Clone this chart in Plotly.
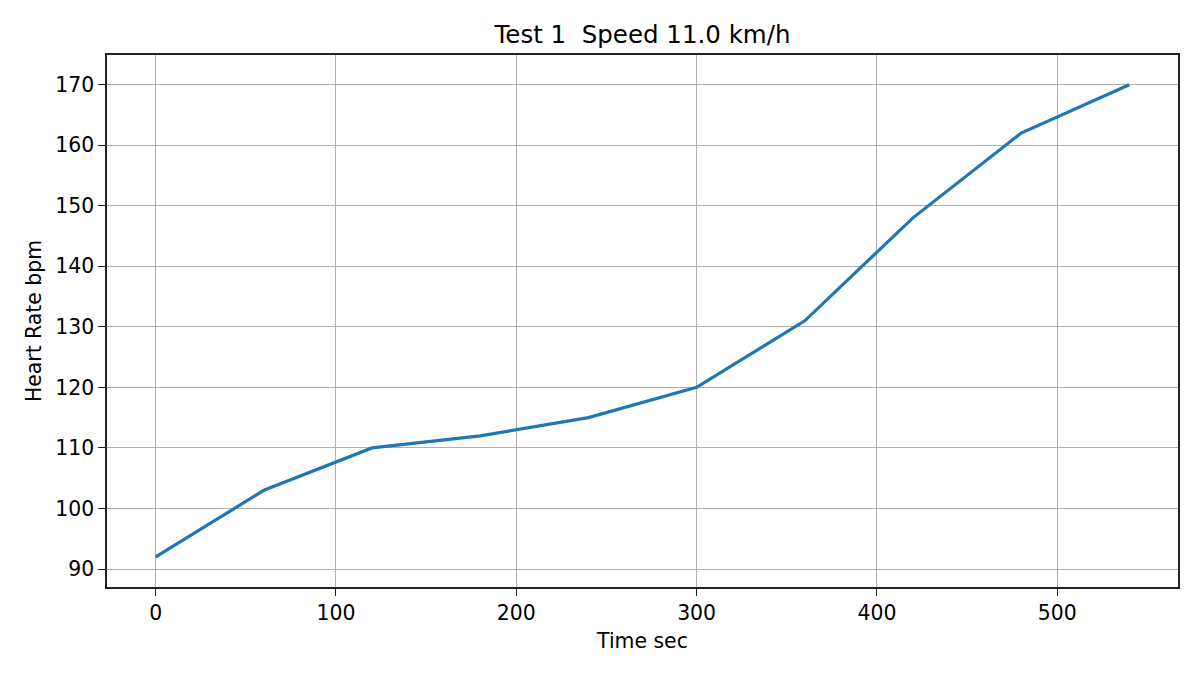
import plotly.graph_objects as go

time_sec = [0, 60, 120, 180, 240, 300, 360, 420, 480, 540]
heart_rate = [92, 103, 110, 112, 115, 120, 131, 148, 162, 170]
x_ticks = [0, 100, 200, 300, 400, 500]
y_ticks = [90, 100, 110, 120, 130, 140, 150, 160, 170]

fig = go.Figure()
fig.add_trace(go.Scatter(x=time_sec, y=heart_rate, mode="lines",
                         line=dict(color="#1f77b4", width=3.2), showlegend=False))

font = "DejaVu Sans"
fs = 20.4
fig.update_layout(
    width=1200, height=675,
    margin=dict(l=107, r=22, t=55, b=88),
    paper_bgcolor="white", plot_bgcolor="white",
    font=dict(family=font, size=fs, color="black"),
    title=dict(text="Test 1  Speed 11.0 km/h", x=(107 + 1178) / 2 / 1200, xanchor="center",
               y=1 - 34 / 675, yanchor="middle", font=dict(size=24.5, family=font)),
)
common = dict(ticks="outside", ticklen=7, tickwidth=1.4, tickcolor="#222222",
              showline=True, linecolor="#222222", linewidth=1.5, mirror=True,
              showgrid=True, gridcolor="#b0b0b0", gridwidth=1.3, zeroline=False,
              tickfont=dict(size=fs, family=font))
fig.update_xaxes(range=[-27, 567], tickvals=x_ticks,
                 title=dict(text="Time sec", standoff=9, font=dict(size=fs)), **common)
fig.update_yaxes(range=[87.03, 174.9], tickvals=y_ticks,
                 title=dict(text="Heart Rate bpm", standoff=8, font=dict(size=fs)), **common)
fig.write_html("out.html")
